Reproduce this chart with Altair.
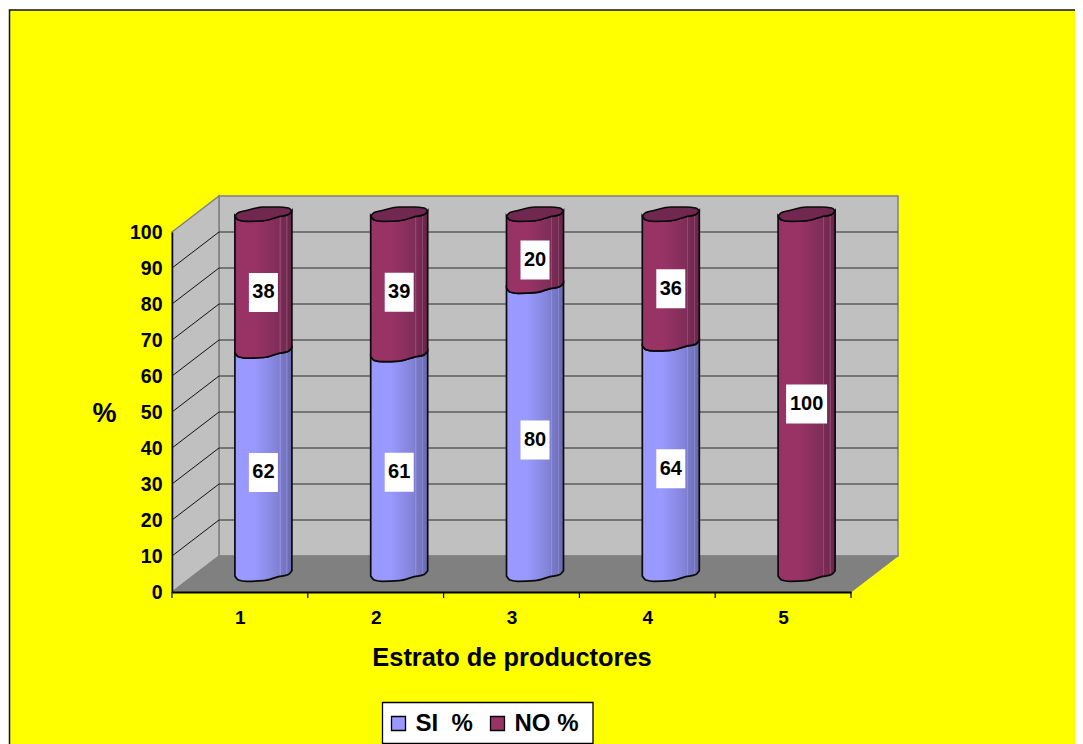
import altair as alt
import pandas as pd

# ---- values
categories = [1, 2, 3, 4, 5]
si_values = [62, 61, 80, 64, 0]
no_values = [38, 39, 20, 36, 100]
y_ticks = list(range(0, 101, 10))
series_names = ["SI\u00a0\u00a0%", "NO\u00a0%"]
x_title = "Estrato de productores"
y_title = "%"

# ---- geometry of the fake 3D box (in scale units)
PX_X = 679 / 5
PX_Y = 3.6
DX = 47 / PX_X
DY = 10
# digitised cylinder cross-section: horizontal offset, front edge, back edge (px)
cross_dx = [-28.5, -25, -17, 0, 15, 25, 28.5]
cross_front = [2, 6, 7.3, 6.7, 2.7, 0.5, -3.3]
cross_back = [2, -1.5, -3.5, -7, -7, -6, -3.3]

FONT = "Liberation Sans"
xs = alt.Scale(domain=[0.5, 5.5], nice=False, zero=False)
ys = alt.Scale(domain=[0, 100], nice=False, zero=False)
x_axis = alt.Axis(
    values=categories, format="d", ticks=False, domainColor="black", domainWidth=1.8,
    labelFont=FONT, labelFontWeight="bold", labelFontSize=19, labelColor="black",
    labelPadding=16, labelFlush=False, labelOverlap=False, grid=False, zindex=1,
    titleFont=FONT, titleFontWeight="bold", titleFontSize=25.4, titleColor="black",
    titleY=65, titleBaseline="middle")
y_axis = alt.Axis(
    values=y_ticks, ticks=False, domainColor="black", domainWidth=1.5, grid=False, zindex=1,
    labelFont=FONT, labelFontWeight="bold", labelFontSize=19.5, labelColor="black",
    labelPadding=10, labelOverlap=False, labelFlush=False,
    titleFont=FONT, titleFontWeight="bold", titleFontSize=27, titleColor="black",
    titleAngle=0, titleX=-68, titleY=181, titleBaseline="middle", titleAlign="center")

def XX(field):
    return alt.X(field, scale=xs, title=x_title, axis=x_axis)

def YY(field):
    return alt.Y(field, scale=ys, title=y_title, axis=y_axis)

X = XX("x:Q")
Y = YY("y:Q")

def grad(*stops):
    return alt.LinearGradient(
        gradient="linear", x1=0, x2=1, y1=0, y2=0,
        stops=[alt.GradientStop(offset=o, color=c) for o, c in stops])

grad_si = grad((0, "#9999FF"), (0.35, "#9999FF"), (0.7, "#8585DC"), (0.78, "#7E7ED0"),
               (0.785, "#8F8FDC"), (0.80, "#8F8FDC"), (0.805, "#7A7ACA"), (0.9, "#7373BE"),
               (0.905, "#8585D0"), (0.92, "#8585D0"), (0.925, "#7070B8"), (1, "#6868AE"))
grad_no = grad((0, "#993366"), (0.35, "#993366"), (0.7, "#842E5C"), (0.78, "#7E2C58"),
               (0.785, "#8F4A72"), (0.80, "#8F4A72"), (0.805, "#7A2B55"), (0.9, "#73294F"),
               (0.905, "#86466B"), (0.92, "#86466B"), (0.925, "#70284D"), (1, "#682548"))

# ---- frame / background
frame = alt.Chart(pd.DataFrame({"a": [0]})).mark_rect(
    fill="#FFFF00", stroke="#111111", strokeWidth=1.5).encode(
    x=alt.value(-162.5), x2=alt.value(930), y=alt.value(-222), y2=alt.value(530))

# ---- walls and floor
back = pd.DataFrame({"x": [0.5 + DX, 5.5 + DX], "y": [DY, DY], "y2": [100 + DY, 100 + DY]})
back_wall = alt.Chart(back).mark_area(fill="#C0C0C0", stroke="#808080", strokeWidth=1.5).encode(
    x=X, y=Y, y2="y2:Q")
left = pd.DataFrame({"x": [0.5, 0.5 + DX], "y": [0, DY], "y2": [100, 100 + DY]})
left_wall = alt.Chart(left).mark_area(fill="#C0C0C0", stroke="#808080", strokeWidth=1.5).encode(
    x=X, y=Y, y2="y2:Q")
fl = pd.DataFrame({"y": [0, DY], "x": [0.5, 0.5 + DX], "x2": [5.5, 5.5 + DX]})
floor = alt.Chart(fl).mark_area(orient="horizontal", fill="#808080", stroke="#808080",
                                strokeWidth=1).encode(x=X, x2="x2:Q", y=Y)

inner = [t for t in y_ticks if 0 < t < 100]
grid_df = pd.DataFrame({"x": [0.5 + DX] * len(inner), "x2": [5.5 + DX] * len(inner),
                        "y": [t + DY for t in inner]})
grid = alt.Chart(grid_df).mark_rule(color="#2a2a2a", strokeWidth=1.2).encode(x=X, x2="x2:Q", y=Y)
diag_df = pd.DataFrame({"x": [0.5] * len(inner), "x2": [0.5 + DX] * len(inner),
                        "y": inner, "y2": [t + DY for t in inner]})
diag = alt.Chart(diag_df).mark_rule(color="#111111", strokeWidth=1).encode(
    x=X, x2="x2:Q", y=Y, y2="y2:Q")

# ---- cylinders
rows, caps, labels = [], [], []
for c, s, n in zip(categories, si_values, no_values):
    cx = c + DX / 2
    nudge = 8 if c == 2 else 10
    for name, lo, hi in (("SI", 0, s), ("NO", s, s + n)):
        if hi <= lo:
            continue
        for dx, f in zip(cross_dx, cross_front):
            rows.append({"id": f"{name}{c}", "s": name, "x": cx + dx / PX_X,
                         "y": hi + DY / 2 - f / PX_Y, "y2": lo + DY / 2 - f / PX_Y})
        labels.append({"x": cx, "yc": (lo + hi) / 2 + DY / 2 - nudge / PX_Y,
                       "t": str(hi - lo), "hw": (14.5 if hi - lo < 100 else 20.5) / PX_X})
    for dx, f, b in zip(cross_dx, cross_front, cross_back):
        caps.append({"id": f"cap{c}", "x": cx + dx / PX_X,
                     "y": s + n + DY / 2 - f / PX_Y, "y2": s + n + DY / 2 - b / PX_Y})
seg = pd.DataFrame(rows)
body_si = alt.Chart(seg[seg.s == "SI"]).mark_area(
    fill=grad_si, stroke="#0a0a0a", strokeWidth=1.7, interpolate="monotone").encode(
    x=X, y=Y, y2="y2:Q", detail="id:N")
body_no = alt.Chart(seg[seg.s == "NO"]).mark_area(
    fill=grad_no, stroke="#0a0a0a", strokeWidth=1.7, interpolate="monotone").encode(
    x=X, y=Y, y2="y2:Q", detail="id:N")
cap = alt.Chart(pd.DataFrame(caps)).mark_area(
    fill="#702850", stroke="#0a0a0a", strokeWidth=1.5, interpolate="monotone").encode(
    x=X, y=Y, y2="y2:Q", detail="id:N")

# ---- data labels
lab = pd.DataFrame(labels)
lab["x0"] = lab.x - lab.hw
lab["x1"] = lab.x + lab.hw
lab["y0"] = lab.yc - 19.5 / PX_Y
lab["y1"] = lab.yc + 19.5 / PX_Y
boxes = alt.Chart(lab).mark_rect(fill="white").encode(
    x=XX("x0:Q"), x2="x1:Q", y=YY("y0:Q"), y2="y1:Q")
texts = alt.Chart(lab).mark_text(font=FONT, fontWeight="bold", fontSize=20, color="black",
                                 baseline="middle", align="center").encode(
    x=X, y=YY("yc:Q"), text="t:N")

# ---- tick marks below the category axis
bounds = pd.DataFrame({"x": [0.5 + i for i in range(6)]})
xticks = alt.Chart(bounds).mark_rule(color="black", strokeWidth=1.2).encode(
    x=X, y=alt.value(360), y2=alt.value(366))

# ---- legend box and legend carrier
legend_box = alt.Chart(pd.DataFrame({"a": [0]})).mark_rect(
    fill="white", stroke="black", strokeWidth=1.3).encode(
    x=alt.value(210.5), x2=alt.value(421), y=alt.value(470.5), y2=alt.value(511.5))
axis_df = pd.DataFrame({"x": categories, "y": [0] * 5,
                        "serie": [series_names[0], series_names[1]] * 2 + [series_names[1]]})
legend_layer = alt.Chart(axis_df).mark_point(opacity=0, size=1, filled=True).encode(
    x=X, y=Y,
    color=alt.Color("serie:N", sort=series_names, title=None,
                    scale=alt.Scale(domain=series_names, range=["#9999FF", "#993366"]),
                    legend=alt.Legend(
                        orient="none", legendX=210.5, legendY=475.5, direction="horizontal",
                        columns=2, symbolType="square", symbolSize=196, symbolOpacity=1,
                        symbolStrokeColor="black", symbolStrokeWidth=1.3,
                        labelFont=FONT, labelFontWeight="bold", labelFontSize=24,
                        labelColor="black", labelOffset=5, columnPadding=12, padding=4,
                        labelLimit=300)),
)

chart = alt.layer(frame, back_wall, left_wall, floor, grid, diag, body_si, body_no, cap,
                  boxes, texts, xticks, legend_box, legend_layer).properties(
    width=679, height=360, background="white",
    padding={"left": 164, "top": 224, "right": 224, "bottom": 152},
    autosize=alt.AutoSizeParams(type="none"),
).configure_view(stroke=None)

chart.save("out.html", embed_options={"renderer": "svg", "actions": False})
